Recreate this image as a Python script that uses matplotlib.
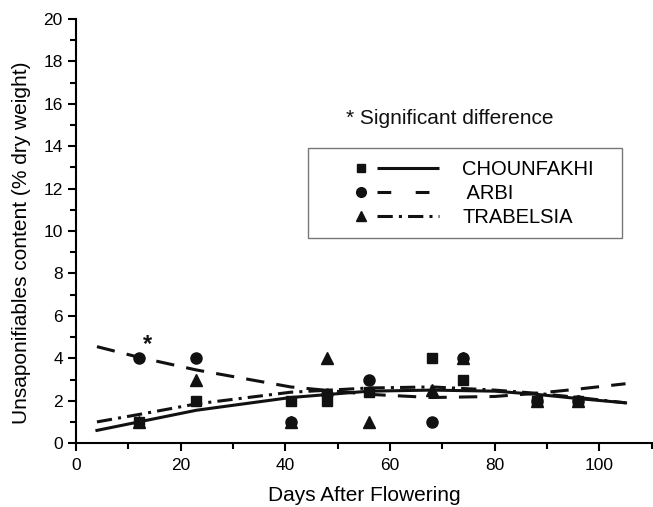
import matplotlib
matplotlib.use("Agg")
import matplotlib.pyplot as plt
from matplotlib.lines import Line2D
from matplotlib.legend_handler import HandlerBase
from matplotlib.ticker import MultipleLocator

plt.rcParams['font.family'] = ['Liberation Sans', 'DejaVu Sans']

# Measured points
days = [12, 23, 41, 48, 56, 68, 74, 88, 96]
chounfakhi = [1, 2, 2, 2, 2.4, 4, 3, 2, 2]
arbi = [4, 4, 1, 2.3, 3, 1, 4, 2, 2]
trabelsia = [1, 3, 1, 4, 1, 2.5, 4, 2, 2]

# Fitted curves
fit_x = [4, 12, 23, 41, 56, 68, 80, 88, 96, 105]
fit_chounfakhi = [0.6, 1.0, 1.55, 2.15, 2.45, 2.5, 2.45, 2.3, 2.1, 1.9]
fit_arbi = [4.55, 4.05, 3.45, 2.65, 2.3, 2.15, 2.2, 2.35, 2.55, 2.8]
fit_trabelsia = [1.0, 1.35, 1.85, 2.4, 2.6, 2.65, 2.5, 2.35, 2.15, 1.9]

labels = ["CHOUNFAKHI", " ARBI", "TRABELSIA"]
star_pos = (12.8, 4.65)

fig = plt.figure(figsize=(6.53, 5.07), dpi=100)
ax = fig.add_axes([0.1164, 0.126, 0.8816, 0.8365])

lw = 2.2
ax.plot(fit_x, fit_chounfakhi, color='#111111', lw=lw, ls='-')
ax.plot(fit_x, fit_arbi, color='#111111', lw=lw, dashes=(6, 4))
ax.plot(fit_x, fit_trabelsia, color='#111111', lw=lw, dashes=(5, 2, 1, 2))

ms = 7
ax.plot(days, chounfakhi, ls='none', marker='s', color='#111111', ms=ms)
ax.plot(days, arbi, ls='none', marker='o', color='#111111', ms=ms + 1)
ax.plot(days, trabelsia, ls='none', marker='^', color='#111111', ms=ms + 1)

ax.text(star_pos[0], star_pos[1], '*', fontsize=17, fontweight='bold', ha='left', va='center', color='#111111')
ax.text(51.5, 15.3, '* Significant difference', fontsize=15, ha='left', va='center', color='#111111')

ax.set_xlim(0, 110)
ax.set_ylim(0, 20)
ax.xaxis.set_major_locator(MultipleLocator(20))
ax.xaxis.set_minor_locator(MultipleLocator(10))
ax.yaxis.set_major_locator(MultipleLocator(2))
ax.yaxis.set_minor_locator(MultipleLocator(1))
ax.spines['top'].set_visible(False)
ax.spines['right'].set_visible(False)
for s in ['left', 'bottom']:
    ax.spines[s].set_linewidth(1.5)
ax.tick_params(which='major', direction='out', length=6, width=1.5, labelsize=12.5)
ax.tick_params(axis='x', which='major', pad=5)
ax.tick_params(which='minor', direction='out', length=4, width=1.5)
ax.set_xlabel('Days After Flowering', fontsize=15, labelpad=9)
ax.set_ylabel('Unsaponifiables content (% dry weight)', fontsize=15)
ax.yaxis.set_label_coords(-0.078, 0.472)


class MarkerLineHandler(HandlerBase):
    def __init__(self, marker, msize, lstyle):
        super().__init__()
        self.marker = marker
        self.msize = msize
        self.lstyle = lstyle

    def create_artists(self, legend, orig_handle, xdescent, ydescent, width, height, fontsize, trans):
        y = height / 2 - ydescent
        m = Line2D([-xdescent + 30], [y], marker=self.marker, ms=self.msize, color='#111111', ls='none')
        kw = dict(color='#111111', lw=lw, solid_capstyle='butt', dash_capstyle='butt')
        if self.lstyle == 'solid':
            kw['ls'] = '-'
        elif self.lstyle == 'dash':
            kw['dashes'] = (4.5, 8)
        else:
            kw['dashes'] = (5, 2, 1, 2)
        l = Line2D([-xdescent + 41, -xdescent + width], [y, y], **kw)
        m.set_transform(trans)
        l.set_transform(trans)
        return [m, l]


h1, h2, h3 = Line2D([], []), Line2D([], []), Line2D([], [])
leg = ax.legend([h1, h2, h3], labels,
                handler_map={h1: MarkerLineHandler('s', 6, 'solid'),
                             h2: MarkerLineHandler('o', 7, 'dash'),
                             h3: MarkerLineHandler('^', 7, 'dashdot')},
                loc='upper left', bbox_to_anchor=(0.403, 0.488, 0.545, 0.208), mode='expand',
                fancybox=False,
                fontsize=14.5, handlelength=5.93, handletextpad=1.14, labelspacing=0.25,
                borderpad=0.58, borderaxespad=0, frameon=True)
leg.get_frame().set_edgecolor('#555555')
leg.get_frame().set_linewidth(1.0)

fig.savefig('out.png', dpi=100)
